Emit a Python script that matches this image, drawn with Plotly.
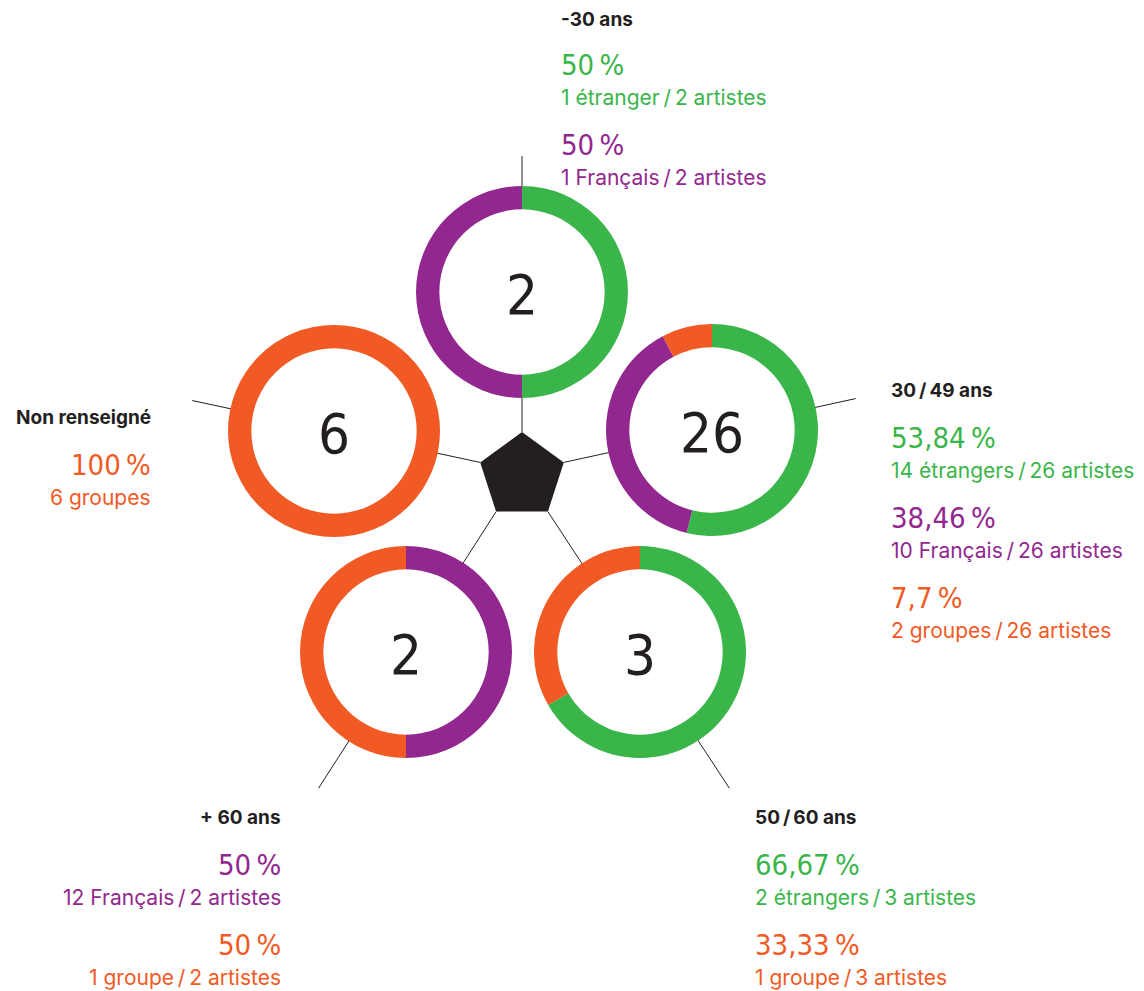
import math
import plotly.graph_objects as go

# the page body keeps an 8px margin, so the figure is drawn 8px smaller
# and its axes start at 8 to keep the reference pixel coordinates
OFF = 8
W, H = 1144 - OFF, 991 - OFF

# data
groups = ["-30 ans", "30\u2009/\u200949 ans", "50\u2009/\u200960 ans", "+ 60 ans", "Non renseigné"]
totals = [2, 26, 3, 2, 6]
etrangers = [1, 14, 2, 0, 0]
francais = [1, 10, 0, 1, 0]
groupes = [0, 2, 1, 1, 6]
pct_labels = [
    ["50\u2009%", "50\u2009%"],
    ["53,84\u2009%", "38,46\u2009%", "7,7\u2009%"],
    ["66,67\u2009%", "33,33\u2009%"],
    ["50\u2009%", "50\u2009%"],
    ["100\u2009%"],
]
detail_labels = [
    ["1 étranger\u2009/\u20092 artistes", "1 Français\u2009/\u20092 artistes"],
    ["14 étrangers\u2009/\u200926 artistes", "10 Français\u2009/\u200926 artistes", "2 groupes\u2009/\u200926 artistes"],
    ["2 étrangers\u2009/\u20093 artistes", "1 groupe\u2009/\u20093 artistes"],
    ["12 Français\u2009/\u20092 artistes", "1 groupe\u2009/\u20092 artistes"],
    ["6 groupes"],
]
label_colors = [
    ["green", "purple"],
    ["green", "purple", "orange"],
    ["green", "orange"],
    ["purple", "orange"],
    ["orange"],
]

COLORS = {"green": "#3AB54A", "purple": "#92278F", "orange": "#F15A24"}
DARK = "#231F20"
NUM_FONT = "DejaVu Sans Condensed, sans-serif"
TXT_FONT = "Inter, Roboto, sans-serif"

# layout: donut centres, label blocks
centers = [(522, 292), (712, 430), (640, 652), (406, 652), (334, 431)]
R_OUT = 106
HOLE = 0.78
label_pos = [(560, 19, "left"), (890, 390, "left"), (754, 817, "left"),
             (282, 817, "right"), (152, 417, "right")]

# pentagon
pcx, pcy, pr = 522, 476, 44
pent = []
for ang in [0, 72, 144, 216, 288]:
    a = math.radians(ang)
    pent.append((pcx + pr * math.sin(a), pcy - pr * math.cos(a)))

fig = go.Figure()

shapes = []
# spokes from pentagon vertices through each donut
for i, (cx, cy) in enumerate(centers):
    vx, vy = pent[i]
    t = 1.97
    shapes.append(dict(type="line", xref="x", yref="y", layer="below",
                       x0=vx, y0=vy, x1=vx + t * (cx - vx), y1=vy + t * (cy - vy),
                       line=dict(color=DARK, width=1)))
# white discs hide the spokes inside the donuts
for cx, cy in centers:
    shapes.append(dict(type="circle", xref="x", yref="y", layer="below",
                       x0=cx - R_OUT + 1, x1=cx + R_OUT - 1, y0=cy - R_OUT + 1, y1=cy + R_OUT - 1,
                       fillcolor="white", line=dict(width=0)))
path = "M " + " L ".join(f"{x:.1f},{y:.1f}" for x, y in pent) + " Z"
shapes.append(dict(type="path", xref="x", yref="y", layer="below", path=path,
                   fillcolor=DARK, line=dict(width=0)))

for i, (cx, cy) in enumerate(centers):
    fig.add_trace(go.Pie(
        values=[etrangers[i], francais[i], groupes[i]],
        labels=["étrangers", "Français", "groupes"],
        marker=dict(colors=[COLORS["green"], COLORS["purple"], COLORS["orange"]], line=dict(width=0)),
        hole=HOLE, sort=False, direction="clockwise", rotation=0,
        textinfo="none", showlegend=False,
        domain=dict(x=[(cx - R_OUT - OFF) / W, (cx + R_OUT - OFF) / W],
                    y=[1 - (cy + R_OUT - OFF) / H, 1 - (cy - R_OUT - OFF) / H]),
    ))

annotations = []
for i, (cx, cy) in enumerate(centers):
    annotations.append(dict(x=cx, y=cy + 2, xref="x", yref="y", text=str(totals[i]),
                            showarrow=False, font=dict(family=NUM_FONT, size=56, color=DARK)))

for i, (lx, ly, al) in enumerate(label_pos):
    annotations.append(dict(x=lx, y=ly, xref="x", yref="y", text="<b>" + groups[i] + "</b>",
                            xanchor=al, yanchor="middle", showarrow=False, borderpad=0,
                            font=dict(family=TXT_FONT, size=19, color=DARK)))
    y = max(ly, 17) + 48 if i else 65
    for p, d, c in zip(pct_labels[i], detail_labels[i], label_colors[i]):
        annotations.append(dict(x=lx, y=y, xref="x", yref="y", text=p,
                                xanchor=al, yanchor="middle", showarrow=False, borderpad=0,
                                font=dict(family=NUM_FONT, size=29, color=COLORS[c])))
        annotations.append(dict(x=lx, y=y + 32, xref="x", yref="y", text=d,
                                xanchor=al, yanchor="middle", showarrow=False, borderpad=0,
                                font=dict(family=TXT_FONT, size=21, color=COLORS[c])))
        y += 80

fig.update_layout(
    width=W, height=H,
    margin=dict(l=0, r=0, t=0, b=0),
    paper_bgcolor="white", plot_bgcolor="white",
    xaxis=dict(range=[OFF, 1144], visible=False, fixedrange=True),
    yaxis=dict(range=[991, OFF], visible=False, fixedrange=True),
    shapes=shapes, annotations=annotations,
)

fig.write_html("out.html")
